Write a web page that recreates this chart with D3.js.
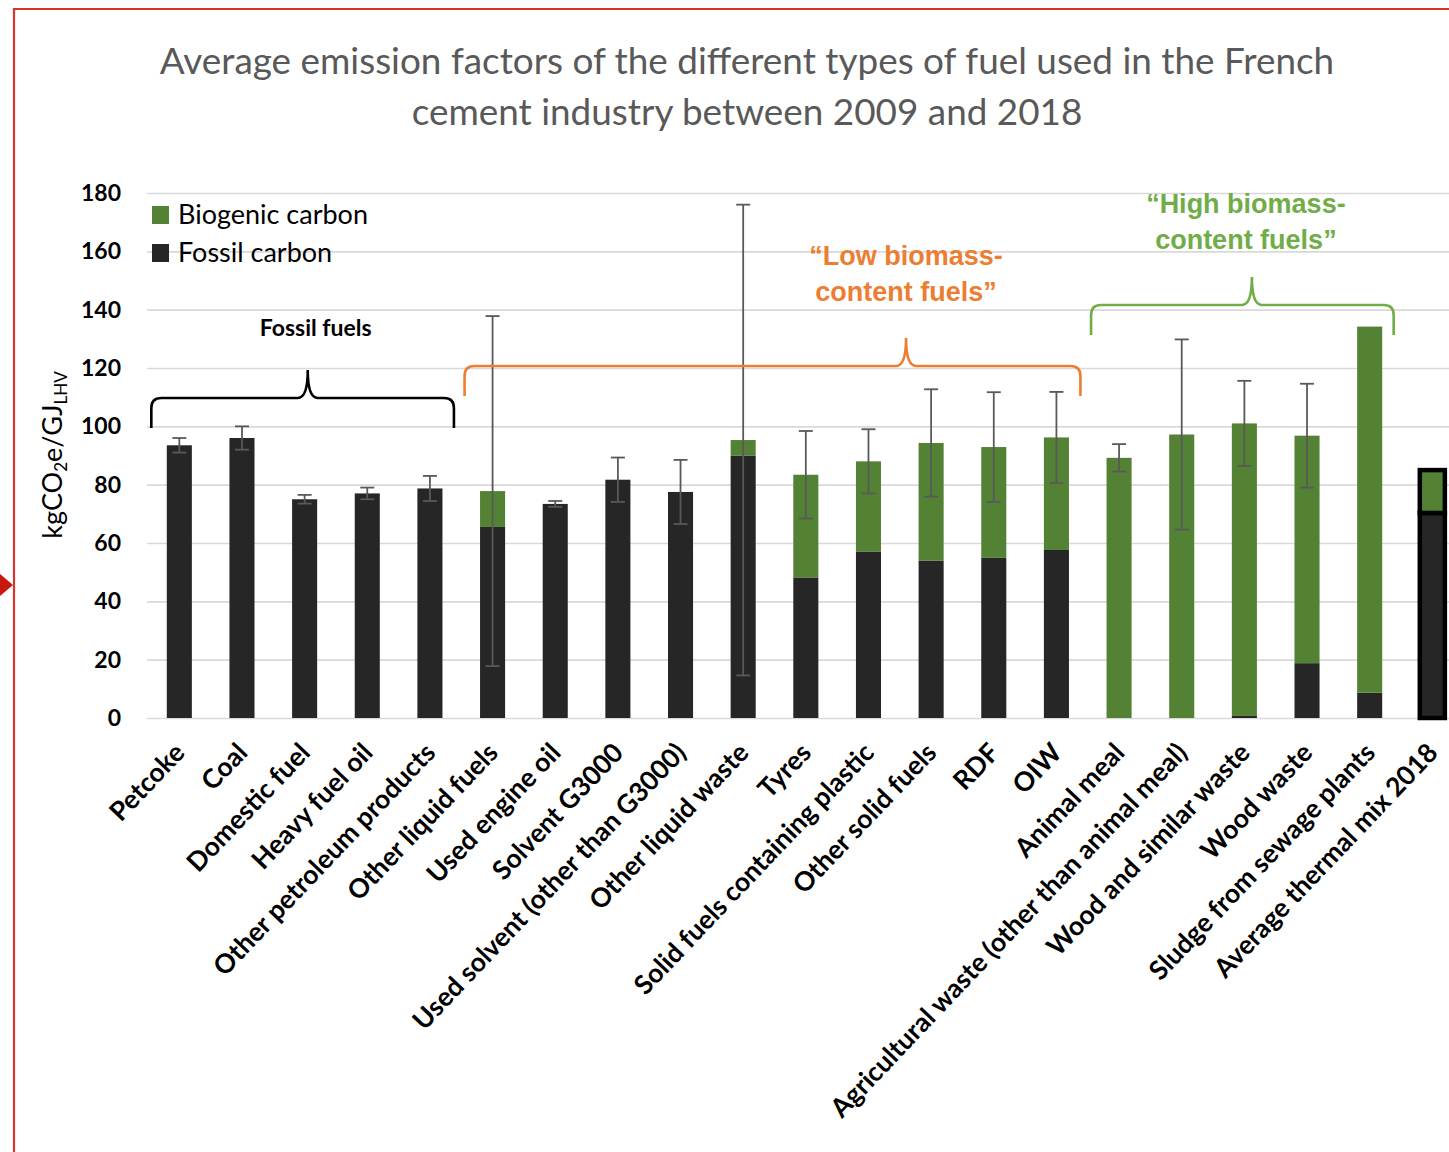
<!DOCTYPE html>
<html><head><meta charset="utf-8">
<script src="https://cdn.jsdelivr.net/npm/d3@7"></script>
<style>
html,body{margin:0;padding:0;background:#fff;}
svg{display:block;}
</style></head>
<body>
<svg id="chart" width="1449" height="1152"></svg>
<script>
// ---------- DATA ----------
const categories = ["Petcoke","Coal","Domestic fuel","Heavy fuel oil","Other petroleum products",
  "Other liquid fuels","Used engine oil","Solvent G3000","Used solvent (other than G3000)",
  "Other liquid waste","Tyres","Solid fuels containing plastic","Other solid fuels","RDF","OIW",
  "Animal meal","Agricultural waste (other than animal meal)","Wood and similar waste","Wood waste",
  "Sludge from sewage plants","Average thermal mix 2018"];
const fossil   = [93.5, 96, 75, 77, 78.7, 65.5, 73.4, 81.7, 77.5, 90, 48.2, 57.1, 54, 54.9, 57.6, 0, 0, 0.7, 18.8, 8.7, 70.3];
const biogenic = [0, 0, 0, 0, 0, 12.3, 0, 0, 0, 5.3, 35.2, 30.9, 40.3, 38, 38.6, 89.2, 97.2, 100.3, 78, 125.5, 14.7];
const errorHalf = [2.5, 4, 1.5, 2, 4.3, 60, 1, 7.6, 11, 80.7, 15, 11, 18.4, 18.8, 15.6, 4.7, 32.6, 14.6, 17.8, null, null];
const yTicks = [0,20,40,60,80,100,120,140,160,180];
const seriesKeys = ["fossil","biogenic"];
const legendLabels = ["Biogenic carbon","Fossil carbon"];
const titleLines = ["Average emission factors of the different types of fuel used in the French",
  "cement industry between 2009 and 2018"];
const groupLabels = [["Fossil fuels"],["\u201CLow biomass-","content fuels\u201D"],["\u201CHigh biomass-","content fuels\u201D"]];
const groupFirst = [0, 5, 15];
const groupLast  = [4, 14, 19];
const groupPeak  = [2.05, 11.6, 17.12];   // category position of the brace tip
const groupLevel = [109.7, 120.7, 141.6]; // value where brace runs

// ---------- SETUP ----------
const svg = d3.select("#chart");
const W = 1449, H = 1152;
const colors = {fossil:"#262626", biogenic:"#548235"};
const groupColors = ["#000000","#ED7D31","#70AD47"];

const x = d3.scaleBand().domain(categories).range([148, 148 + 62.65*21]).paddingInner(0.6).paddingOuter(0.3);
const y = d3.scaleLinear().domain([0,180]).range([718,193]);
const cx = i => x(categories[i]) + x.bandwidth()/2;

// red frame
svg.append("path").attr("d","M14,1152 L14,9 L1449,9").attr("fill","none").attr("stroke","#D6342C").attr("stroke-width",2.2);
svg.append("path").attr("d","M0,574 L13,585 L0,596 Z").attr("fill","#C8190F");

// title
const title = svg.append("text").attr("x",747).attr("text-anchor","middle")
  .attr("font-family","Lato, 'Noto Sans', sans-serif").attr("fill","#595959").attr("font-size",34);
title.selectAll("tspan").data(titleLines).join("tspan").attr("x",747).attr("y",(d,i)=>74+i*51).text(d=>d);
{
  const t = title.select("tspan").node();
  const w = t.getComputedTextLength();
  title.attr("font-size", 34*1175/w);
}

// gridlines + y tick labels
const yAxis = d3.axisLeft(y).tickValues(yTicks).tickSize(-(W-147)).tickFormat(d3.format("d")).tickPadding(26);
const gAxis = svg.append("g").attr("transform","translate(147,0)").call(yAxis);
gAxis.select(".domain").remove();
gAxis.selectAll(".tick line").attr("stroke","#d9d9d9").attr("stroke-width",1.6);
gAxis.selectAll(".tick text").attr("font-family","Lato, sans-serif").attr("font-weight",700)
  .attr("font-size",23).attr("fill","#000");

// stacked bars
const rows = categories.map((c,i)=>({cat:c, fossil:fossil[i], biogenic:biogenic[i]}));
const stacked = d3.stack().keys(seriesKeys)(rows);
const lastCat = categories[categories.length-1];
svg.append("g").selectAll("g").data(stacked).join("g").attr("fill",d=>colors[d.key])
  .selectAll("rect").data(d=>d.filter(s=>s[1]-s[0]>0)).join("rect")
  .attr("x",d=>x(d.data.cat)).attr("width",x.bandwidth())
  .attr("y",d=>y(d[1])).attr("height",d=>y(d[0])-y(d[1]))
  .attr("stroke",d=>d.data.cat===lastCat?"#000":"none")
  .attr("stroke-width",d=>d.data.cat===lastCat?4.5:0);

// error bars
const eb = svg.append("g").attr("stroke","#595959").attr("stroke-width",1.8).attr("fill","none");
rows.forEach((r,i)=>{
  if(errorHalf[i]==null) return;
  const tot = r.fossil + r.biogenic, xc = cx(i);
  const y1 = y(tot+errorHalf[i]), y0 = y(tot-errorHalf[i]);
  eb.append("line").attr("x1",xc).attr("x2",xc).attr("y1",y1).attr("y2",y0);
  eb.append("line").attr("x1",xc-7).attr("x2",xc+7).attr("y1",y1).attr("y2",y1);
  eb.append("line").attr("x1",xc-7).attr("x2",xc+7).attr("y1",y0).attr("y2",y0);
});

// x labels
svg.append("g").selectAll("text").data(categories).join("text")
  .attr("transform",(d,i)=>`translate(${cx(i)+7},${754}) rotate(-46.5)`)
  .attr("text-anchor","end").attr("font-family","Lato, sans-serif").attr("font-weight",700)
  .attr("font-size",26.5).attr("fill","#000").text(d=>d);

// y axis title
const yt = svg.append("text").attr("transform","translate(62,455) rotate(-90)").attr("text-anchor","middle")
  .attr("font-family","Lato, sans-serif").attr("font-size",27).attr("fill","#000");
yt.append("tspan").text("kgCO");
yt.append("tspan").attr("font-size",17).attr("dy",5).text("2");
yt.append("tspan").attr("dy",-5).text("e/GJ");
yt.append("tspan").attr("font-size",17).attr("dy",5).text("LHV");

// legend
const lg = svg.append("g");
legendLabels.forEach((l,i)=>{
  const key = i===0?"biogenic":"fossil";
  lg.append("rect").attr("x",152).attr("y",206+i*38).attr("width",17).attr("height",18).attr("fill",colors[key]);
  lg.append("text").attr("x",178).attr("y",224+i*38).attr("font-family","Lato, sans-serif")
    .attr("font-size",27).attr("fill","#000").text(l);
});

// braces
function bracePath(x0,x1,xm,yy,h,p){
  const r=10;
  return `M${x0},${yy+h} L${x0},${yy+r} Q${x0},${yy} ${x0+r},${yy} L${xm-r},${yy} Q${xm},${yy} ${xm},${yy-p} Q${xm},${yy} ${xm+r},${yy} L${x1-r},${yy} Q${x1},${yy} ${x1},${yy+r} L${x1},${yy+h}`;
}
const x0p = x.range()[0] + x.step()*x.paddingOuter() - x.step()*x.paddingInner()/2;
const slotCenter = p => x0p + x.step()*(p+0.5);
groupLabels.forEach((lab,g)=>{
  const xa = cx(groupFirst[g]) - 28, xb = cx(groupLast[g]) + 24;
  const xm = slotCenter(groupPeak[g]);
  const yy = y(groupLevel[g]);
  svg.append("path").attr("d",bracePath(xa,xb,xm,yy,30,28)).attr("fill","none")
    .attr("stroke",groupColors[g]).attr("stroke-width",2.6);
  const t = svg.append("text").attr("text-anchor","middle").attr("fill",groupColors[g])
    .attr("font-family", g===0 ? "Lato, sans-serif" : "'Liberation Sans', Arial, sans-serif").attr("font-weight",700)
    .attr("font-size", g===0?23:27);
  const lx = g===0 ? xm+8 : (g===2 ? xm-6 : xm);
  const ly0 = g===0 ? yy-62 : (g===1 ? yy-101 : yy-92);
  lab.forEach((s,k)=>t.append("tspan").attr("x",lx).attr("y",ly0+k*36).text(s));
});
</script>
</body></html>
